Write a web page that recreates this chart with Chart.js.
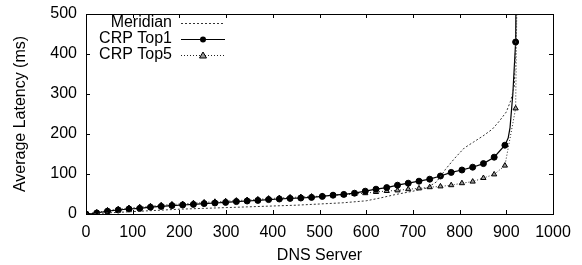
<!DOCTYPE html>
<html>
<head>
<meta charset="utf-8">
<script src="https://cdn.jsdelivr.net/npm/chart.js@4/dist/chart.umd.min.js"></script>
<style>
    html, body { margin: 0; padding: 0; background: #fff; }
    #wrap { width: 582px; height: 265px; position: relative; }
</style>
</head>
<body>
<div id="wrap"><canvas id="latencyChart"></canvas></div>
<script>
// DNS server index (x) and average latency in ms (y)
const meridianX = [0, 50, 100, 150, 200, 250, 300, 350, 400, 450, 500, 550, 600, 630, 660, 700, 730, 750, 760, 770, 790, 810, 830, 850, 870, 885, 900, 910, 917, 920, 921];
const meridianY = [0, 3, 6, 9, 12, 14, 16, 18, 20, 22, 25, 28, 33, 40, 48, 57, 65, 80, 95, 112, 140, 165, 180, 195, 212, 232, 255, 285, 320, 420, 560];

const top1X = [0, 23, 46, 69, 92, 115, 138, 161, 184, 207, 230, 253, 276, 299, 322, 345, 368, 391, 414, 437, 460, 483, 506, 529, 552, 575, 598, 621, 644, 667, 690, 713, 736, 759, 782, 805, 828, 851, 874, 897, 904, 908, 914, 920, 921];
const top1Y = [0, 2.5, 7, 10, 12.5, 14, 17, 19, 21, 22.5, 24, 26, 27.5, 29, 31, 32.5, 34, 36, 37.5, 39, 40, 41.5, 44, 47, 49, 52, 57, 62, 66, 72, 77, 82, 87, 95, 104, 110, 117, 126, 142, 172, 190, 216, 300, 430, 560];

const top5X = [0, 23, 46, 69, 92, 115, 138, 161, 184, 207, 230, 253, 276, 299, 322, 345, 368, 391, 414, 437, 460, 483, 506, 529, 552, 575, 598, 621, 644, 667, 690, 713, 736, 759, 782, 805, 828, 851, 874, 897, 920, 923];
const top5Y = [0, 4, 9, 12, 15, 17, 19.5, 22, 24, 25, 27, 29, 30.5, 32, 33.5, 35, 36.5, 38.5, 40, 41.5, 42.5, 43.5, 45, 47, 48, 50, 52, 55, 57.5, 59, 62, 64, 67, 69, 72, 77, 81, 90, 99, 121, 264, 560];

const xTicks = [0, 100, 200, 300, 400, 500, 600, 700, 800, 900, 1000];
const yTicks = [0, 100, 200, 300, 400, 500];

const FONT = '"Liberation Sans", Arial, Helvetica, sans-serif';

function toPoints(xs, ys) {
    return xs.map((x, i) => ({ x: x, y: ys[i] }));
}

// markers only on the regular sampling grid (every 23 servers)
function markerRadius(ctx) {
    const raw = ctx.raw;
    if (!raw) return 0;
    return (raw.x % 23 === 0 && raw.y <= 500) ? 3 : 0;
}

const frameTicks = {
    id: 'frameTicks',
    afterDraw(chart) {
        const ctx = chart.ctx;
        const area = chart.chartArea;
        const xs = chart.scales.x;
        const ys = chart.scales.y;
        ctx.save();
        ctx.strokeStyle = '#000';
        ctx.lineWidth = 1;
        ctx.strokeRect(Math.round(area.left) + 0.5, Math.round(area.top) + 0.5,
            Math.round(area.right - area.left), Math.round(area.bottom - area.top));
        ctx.beginPath();
        xTicks.forEach(v => {
            const px = Math.round(xs.getPixelForValue(v)) + 0.5;
            ctx.moveTo(px, area.bottom);
            ctx.lineTo(px, area.bottom - 4);
            ctx.moveTo(px, area.top);
            ctx.lineTo(px, area.top + 4);
        });
        yTicks.forEach(v => {
            const py = Math.round(ys.getPixelForValue(v)) + 0.5;
            ctx.moveTo(area.left, py);
            ctx.lineTo(area.left + 4, py);
            ctx.moveTo(area.right, py);
            ctx.lineTo(area.right - 4, py);
        });
        ctx.stroke();
        ctx.restore();
    }
};

const insideLegend = {
    id: 'insideLegend',
    afterDraw(chart) {
        const ctx = chart.ctx;
        ctx.save();
        ctx.font = '16px ' + FONT;
        ctx.textAlign = 'right';
        ctx.textBaseline = 'middle';
        chart.data.datasets.forEach((ds, i) => {
            const y = 23 + i * 16;
            ctx.fillStyle = '#000';
            ctx.fillText(ds.label, 172, y);
            ctx.beginPath();
            ctx.setLineDash(ds.borderDash || []);
            ctx.strokeStyle = ds.borderColor;
            ctx.lineWidth = ds.borderWidth;
            ctx.moveTo(181, y + 0.5);
            ctx.lineTo(225, y + 0.5);
            ctx.stroke();
            ctx.setLineDash([]);
            if (ds.pointStyle === 'circle') {
                ctx.beginPath();
                ctx.fillStyle = '#000';
                ctx.arc(203, y + 0.5, 3, 0, Math.PI * 2);
                ctx.fill();
            } else if (ds.pointStyle === 'triangle') {
                ctx.beginPath();
                ctx.fillStyle = ds.pointBackgroundColor;
                ctx.strokeStyle = '#000';
                ctx.lineWidth = 1;
                ctx.moveTo(203, y - 3);
                ctx.lineTo(206.5, y + 3);
                ctx.lineTo(199.5, y + 3);
                ctx.closePath();
                ctx.fill();
                ctx.stroke();
            }
        });
        ctx.restore();
    }
};

new Chart(document.getElementById('latencyChart'), {
    type: 'line',
    data: {
        datasets: [
            {
                label: 'Meridian',
                data: toPoints(meridianX, meridianY),
                borderColor: '#333',
                borderWidth: 1,
                borderDash: [2, 2],
                pointRadius: 0,
                pointStyle: false,
                tension: 0
            },
            {
                label: 'CRP Top1',
                data: toPoints(top1X, top1Y),
                borderColor: '#000',
                borderWidth: 1.2,
                pointStyle: 'circle',
                pointRadius: markerRadius,
                pointBackgroundColor: '#000',
                pointBorderColor: '#000',
                pointBorderWidth: 1,
                tension: 0
            },
            {
                label: 'CRP Top5',
                data: toPoints(top5X, top5Y),
                borderColor: '#222',
                borderWidth: 1,
                borderDash: [1, 2],
                pointStyle: 'triangle',
                pointRadius: markerRadius,
                pointBackgroundColor: '#999',
                pointBorderColor: '#000',
                pointBorderWidth: 1,
                tension: 0
            }
        ]
    },
    options: {
        responsive: true,
        maintainAspectRatio: false,
        animation: false,
        layout: { padding: { left: 0, right: 29, top: 14, bottom: 0 } },
        plugins: {
            legend: { display: false },
            tooltip: { enabled: false }
        },
        scales: {
            x: {
                type: 'linear',
                min: 0,
                max: 1000,
                grid: { display: false },
                border: { display: false },
                afterFit: scale => { scale.height = 51; },
                ticks: {
                    stepSize: 100,
                    autoSkip: false,
                    maxRotation: 0,
                    padding: 1,
                    color: '#000',
                    font: { family: FONT, size: 16 },
                    callback: value => String(value)
                },
                title: {
                    display: true,
                    text: 'DNS Server',
                    color: '#000',
                    padding: { top: 0, bottom: 0 },
                    font: { family: FONT, size: 16 }
                }
            },
            y: {
                min: 0,
                max: 500,
                grid: { display: false },
                border: { display: false },
                afterFit: scale => { scale.width = 86; },
                ticks: {
                    stepSize: 100,
                    padding: 1,
                    color: '#000',
                    font: { family: FONT, size: 16 }
                },
                title: {
                    display: true,
                    text: 'Average Latency (ms)',
                    color: '#000',
                    padding: { top: 11, bottom: 0 },
                    font: { family: FONT, size: 16 }
                }
            }
        }
    },
    plugins: [frameTicks, insideLegend]
});
</script>
</body>
</html>
